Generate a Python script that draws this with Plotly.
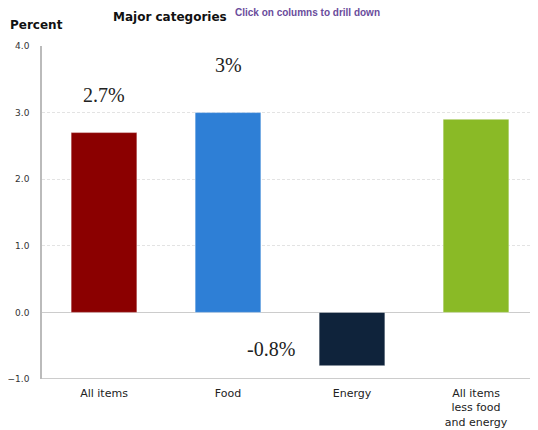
import plotly.graph_objects as go

categories = ["All items", "Food", "Energy", "All items<br>less food<br>and energy"]
values = [2.7, 3.0, -0.8, 2.9]
colors = ["#8b0000", "#2e7fd6", "#0f233b", "#8aba26"]
label_texts = ["2.7%", "3%", "-0.8%"]
label_x = [0, 1, 1.35]
label_y = [3.27, 3.72, -0.55]
y_ticks = [-1.0, 0.0, 1.0, 2.0, 3.0, 4.0]

fig = go.Figure()
fig.add_trace(go.Bar(
    x=list(range(len(categories))), y=values,
    marker=dict(color=colors, line=dict(color="rgba(255,255,255,0.4)", width=1)),
    width=0.53, hoverinfo="skip", showlegend=False,
))

for t, x, y in zip(label_texts, label_x, label_y):
    fig.add_annotation(x=x, y=y, text=t, showarrow=False, xref="x", yref="y",
                       font=dict(family="Liberation Serif, Times New Roman, serif", size=20, color="#222"))

fig.add_annotation(x=0.258, y=1, xref="paper", yref="paper", yshift=29, text="<b>Major categories</b>",
                   showarrow=False, xanchor="center", yanchor="middle",
                   font=dict(family="DejaVu Sans, Verdana, sans-serif", size=12, color="#111"))
fig.add_annotation(x=0.535, y=1, xref="paper", yref="paper", yshift=34, text="<b>Click on columns to drill down</b>",
                   showarrow=False, xanchor="center", yanchor="middle",
                   font=dict(family="Liberation Sans, Arial, sans-serif", size=10, color="#6a4c9c"))
fig.add_annotation(x=0, y=1, xref="paper", yref="paper", xshift=-34, yshift=21, text="<b>Percent</b>",
                   showarrow=False, xanchor="left", yanchor="middle",
                   font=dict(family="DejaVu Sans, Verdana, sans-serif", size=12, color="#111"))

# page body has an 8px default margin, so the figure is shrunk to fit
fig.update_layout(
    width=530, height=422,
    margin=dict(l=34, r=0, t=38, b=51),
    plot_bgcolor="white", paper_bgcolor="white",
    xaxis=dict(
        tickmode="array", tickvals=list(range(len(categories))), ticktext=categories,
        range=[-0.5, 3.5], showgrid=False, zeroline=False, showline=False,
        ticks="", ticklabelstandoff=6,
        tickfont=dict(family="DejaVu Sans, Verdana, sans-serif", size=11, color="#222"),
    ),
    yaxis=dict(
        range=[-1.0, 4.0], tickmode="array", tickvals=y_ticks,
        ticktext=[f"{v:.1f}".replace("-", "−") for v in y_ticks],
        showgrid=True, gridcolor="#e3e3e3", griddash="3px,2px", gridwidth=1,
        zeroline=True, zerolinecolor="#cccccc", zerolinewidth=1,
        showline=True, linecolor="#bbbbbb", linewidth=1.5,
        ticks="", ticklabelstandoff=9,
        tickfont=dict(family="DejaVu Sans, Verdana, sans-serif", size=9, color="#333"),
    ),
)
fig.add_shape(type="line", xref="paper", yref="y", x0=0, x1=1, y0=-1.0, y1=-1.0,
              line=dict(color="#bbbbbb", width=1.5))

fig.write_html("out.html")
